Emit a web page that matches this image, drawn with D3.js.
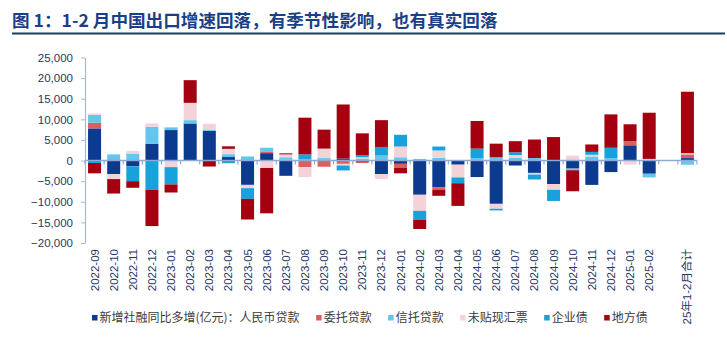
<!DOCTYPE html>
<html><head><meta charset="utf-8">
<script src="https://cdn.jsdelivr.net/npm/d3@7"></script>
<style>
body{margin:0;background:#fff;}
svg{display:block;}
</style></head>
<body>
<svg id="c" width="727" height="339"></svg>
<script>
const categories = ["2022-09","2022-10","2022-11","2022-12","2023-01","2023-02","2023-03","2023-04","2023-05","2023-06","2023-07","2023-08","2023-09","2023-10","2023-11","2023-12","2024-01","2024-02","2024-03","2024-04","2024-05","2024-06","2024-07","2024-08","2024-09","2024-10","2024-11","2024-12","2025-01","2025-02"," ","25年1-2月合计"];
const seriesNames = ["新增社融同比多增(亿元)：人民币贷款","委托贷款","信托贷款","未贴现汇票","企业债","地方债"];
const rmbLoan   = [7800,-3300,-1400,4100,7400,9000,7200,850,-5900,1800,-3700,0,200,500,-300,-3300,-800,-8300,-6500,-1000,-4000,-10500,-1200,-3000,-5700,-1950,-5900,-2800,3700,-3200,0,600];
const entrusted = [1400,300,0,0,0,0,0,0,0,300,200,-1600,-1500,-800,-300,0,-1000,0,-650,0,0,300,0,0,0,0,300,0,1000,0,0,900];
const trust     = [1900,1200,1700,4100,650,800,300,700,1000,1000,600,300,400,0,500,1200,800,400,650,0,600,500,650,600,0,-400,700,600,0,-900,0,-1000];
const bills     = [300,-1200,650,800,-1600,4200,1450,1300,-800,-1800,700,-2400,2300,-400,300,-1200,2600,-3900,1800,-3100,0,-1200,700,-400,-1400,1200,400,0,-1000,400,0,300];
const corpBond  = [-600,0,-3600,-7100,-4200,0,0,-650,-2600,0,0,1200,0,-1200,500,2100,2850,-2200,950,-1400,2300,-400,650,-1200,-2700,0,700,2500,0,0,0,0];
const localBond = [-2500,-3500,-1600,-8800,-1950,5500,-1450,600,-5000,-11000,250,8900,4600,13100,5300,6500,-1300,-2200,-1400,-5500,6700,3300,2700,4500,5700,-5100,1800,8100,4100,11200,0,14900];
const yTicks = [25000,20000,15000,10000,5000,0,-5000,-10000,-15000,-20000];
const colors = ["#0b3a8f","#d9605f","#62c6ee","#f3d3d8","#17a2dc","#a4000f"];
const titleText = "图 1：1-2 月中国出口增速回落，有季节性影响，也有真实回落";

const allSeries = [rmbLoan, entrusted, trust, bills, corpBond, localBond];
const rows = categories.map((c,i)=>{const o={cat:c}; seriesNames.forEach((k,j)=>o[k]=allSeries[j][i]); return o;});

const svg = d3.select("#c");
const x = d3.scaleBand().domain(categories).range([85,697]).paddingInner(0.32).paddingOuter(0.16);
const y = d3.scaleLinear().domain([-20000,25000]).range([243,57.5]);

// title
svg.append("text").attr("x",12).attr("y",27).text(titleText)
  .attr("font-family","'Noto Sans CJK SC','Noto Sans',sans-serif").attr("font-weight","bold")
  .attr("font-size","17.6px").attr("fill","#1b3f86");
svg.append("line").attr("x1",12).attr("x2",725).attr("y1",33.5).attr("y2",33.5)
  .attr("stroke","#1d3d57").attr("stroke-width",2);

// y axis
const ya = svg.append("g").attr("transform","translate(85,0)")
  .call(d3.axisLeft(y).tickValues(yTicks).tickFormat(d3.format(",")).tickSize(4).tickSizeOuter(0).tickPadding(8));
ya.select(".domain").attr("stroke","#a9b8d2").attr("stroke-width",1.2);
ya.selectAll(".tick line").attr("stroke","#a9b8d2");
ya.selectAll("text").attr("font-family","'Liberation Sans',Arial,sans-serif").attr("font-size","11.5px").attr("fill","#1f3768");

// bars
const stack = d3.stack().keys(seriesNames).offset(d3.stackOffsetDiverging);
const stacked = stack(rows);
svg.append("g").selectAll("g").data(stacked).join("g").attr("fill",(d,i)=>colors[i])
  .selectAll("rect").data(d=>d).join("rect")
  .attr("x",d=>x(d.data.cat)).attr("width",x.bandwidth())
  .attr("y",d=>y(Math.max(d[0],d[1]))).attr("height",d=>Math.abs(y(d[0])-y(d[1])));

// zero axis line with boundary ticks
const zero = y(0);
const z = svg.append("g");
z.append("line").attr("x1",85).attr("x2",697).attr("y1",zero).attr("y2",zero)
  .attr("stroke","#8ea9d6").attr("stroke-width",1.6);
const step = x.step();
const bounds = categories.map(c=>x(c)-step*x.paddingInner()/2).concat([x(categories[categories.length-1])+x.bandwidth()+step*x.paddingInner()/2]);
z.selectAll("line.t").data(bounds).join("line").attr("class","t")
  .attr("x1",d=>d).attr("x2",d=>d).attr("y1",zero).attr("y2",zero+4)
  .attr("stroke","#8ea9d6").attr("stroke-width",1.2);

// x labels
const xa = svg.append("g").attr("transform","translate(0,249)")
  .call(d3.axisBottom(x).tickSize(0).tickPadding(0));
xa.select(".domain").remove();
xa.selectAll("text").attr("transform","rotate(-90)").attr("text-anchor","end")
  .attr("x",0).attr("y",0).attr("dx","0").attr("dy","0.35em")
  .attr("font-family","'Liberation Sans','Noto Sans CJK SC',Arial,sans-serif").attr("font-size","11.5px").attr("fill","#1f3768");

// legend
const lg = svg.append("g").attr("transform","translate(92,318)");
let lx = 0;
seriesNames.forEach((n,i)=>{
  const g = lg.append("g").attr("transform",`translate(${lx},0)`);
  g.append("rect").attr("x",0).attr("y",-3).attr("width",5.5).attr("height",5.5).attr("fill",colors[i]);
  const t = g.append("text").attr("x",7.5).attr("y",0).attr("dy","0.36em").text(n)
    .attr("font-family","'Noto Sans CJK SC',sans-serif").attr("font-size","12px").attr("fill","#3b3b3b");
  lx += 7.5 + t.node().getComputedTextLength() + 16.5;
});
</script>
</body></html>
